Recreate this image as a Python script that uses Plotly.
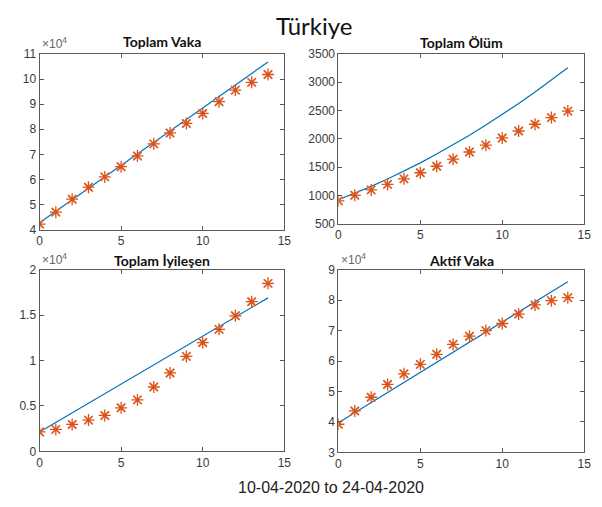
import plotly.graph_objects as go

days = list(range(15))

toplam_vaka = [42282, 47029, 52167, 56956, 61049, 65111, 69392, 74193, 78546,
               82329, 86306, 90980, 95591, 98674, 101790]
toplam_vaka_fit = [42800, 47370, 51940, 56510, 61080, 65650, 70220, 74790, 79360,
                   83930, 88500, 93070, 97640, 102210, 106780]

toplam_olum = [908, 1006, 1101, 1198, 1296, 1403, 1518, 1643, 1769, 1890, 2017,
               2140, 2259, 2376, 2491]
toplam_olum_fit = [926, 1041, 1163, 1294, 1432, 1578, 1733, 1895, 2066, 2244, 2430,
                   2624, 2826, 3036, 3254]

toplam_iyilesen = [2142, 2423, 2965, 3446, 3957, 4799, 5674, 7089, 8631, 10453,
                   11976, 13430, 14918, 16477, 18491]
toplam_iyilesen_fit = [2140, 3194, 4248, 5302, 6356, 7410, 8464, 9518, 10572, 11626,
                       12680, 13734, 14788, 15842, 16896]

aktif_vaka = [39232, 43600, 48101, 52312, 55796, 58909, 62200, 65461, 68146, 69986,
              72313, 75410, 78414, 79821, 80808]
aktif_vaka_fit = [39700, 43010, 46320, 49630, 52940, 56250, 59560, 62870, 66180,
                  69490, 72800, 76110, 79420, 82730, 86040]

titles = ["Toplam Vaka", "Toplam Ölüm", "Toplam İyileşen", "Aktif Vaka"]
main_title = "Türkiye"
x_label = "10-04-2020 to 24-04-2020"

x_ticks = [0, 5, 10, 15]
y_ticks = [
    ([40000, 50000, 60000, 70000, 80000, 90000, 100000, 110000],
     ["4", "5", "6", "7", "8", "9", "10", "11"]),
    ([500, 1000, 1500, 2000, 2500, 3000, 3500],
     ["500", "1000", "1500", "2000", "2500", "3000", "3500"]),
    ([0, 5000, 10000, 15000, 20000], ["0", "0.5", "1", "1.5", "2"]),
    ([30000, 40000, 50000, 60000, 70000, 80000, 90000],
     ["3", "4", "5", "6", "7", "8", "9"]),
]
y_ranges = [[40000, 110000], [500, 3500], [0, 20000], [30000, 90000]]
exponent = [True, False, True, True]

# The page body has an 8px margin, so the figure is drawn 8px right/down.
OFF = 8
W, H = 602 - OFF, 507 - OFF


def px(x):
    return (x - OFF) / W


def py(y):
    return 1 - (y - OFF) / H


# axes boxes in window pixels (left, right, top, bottom)
boxes = [(37, 286, 48, 229), (341, 591, 48, 223), (37, 286, 270, 457), (341, 591, 270, 458)]
title_y = [35, 36, 261, 261]

series = [(toplam_vaka, toplam_vaka_fit), (toplam_olum, toplam_olum_fit),
          (toplam_iyilesen, toplam_iyilesen_fit), (aktif_vaka, aktif_vaka_fit)]

fig = go.Figure()
line_col = "#0072BD"
mark_col = "#D95319"
mark_light = "#EFA483"
axis_col = "#5a5a5a"
text_col = "#3a3a3a"
sans = "Liberation Sans"

annotations = []
for i, ((pts, fit), (l, r, t, b)) in enumerate(zip(series, boxes)):
    xa = "x" if i == 0 else f"x{i+1}"
    ya = "y" if i == 0 else f"y{i+1}"
    fig.add_trace(go.Scatter(x=days, y=fit, mode="lines",
                             line=dict(color=line_col, width=1.2),
                             xaxis=xa, yaxis=ya, showlegend=False, hoverinfo="skip"))
    fig.add_trace(go.Scatter(x=days, y=pts, mode="markers",
                             marker=dict(symbol="x-thin-open", size=8,
                                         line=dict(color=mark_light, width=2),
                                         color=mark_light),
                             xaxis=xa, yaxis=ya, showlegend=False, hoverinfo="skip"))
    fig.add_trace(go.Scatter(x=days, y=pts, mode="markers",
                             marker=dict(symbol="asterisk-open", size=10,
                                         line=dict(color=mark_col, width=1.3),
                                         color=mark_col),
                             xaxis=xa, yaxis=ya, showlegend=False, hoverinfo="skip"))
    axkey_x = "xaxis" if i == 0 else f"xaxis{i+1}"
    axkey_y = "yaxis" if i == 0 else f"yaxis{i+1}"
    common = dict(showline=True, linecolor=axis_col, linewidth=1, mirror="ticks",
                  ticks="inside", ticklen=4, tickcolor=axis_col, tickwidth=1,
                  showgrid=False, zeroline=False, ticklabeloverflow="allow",
                  tickfont=dict(family=sans, size=12, color=text_col))
    fig.layout[axkey_x] = dict(domain=[px(l), px(r)], range=[0, 15], tickvals=x_ticks,
                               anchor=ya, **common)
    fig.layout[axkey_y] = dict(domain=[py(b), py(t)], range=y_ranges[i],
                               tickvals=y_ticks[i][0], ticktext=y_ticks[i][1],
                               anchor=xa, **common)
    annotations.append(dict(text="<b>" + titles[i] + "</b>", x=px((l + r) / 2),
                            y=py(title_y[i]), xref="paper", yref="paper",
                            xanchor="center", yanchor="middle", showarrow=False,
                            font=dict(family="Lato", size=14, color="#111111")))
    if exponent[i]:
        annotations.append(dict(text="×10<sup>4</sup>", x=px(l + 1), y=py(t - 1),
                                xref="paper", yref="paper", xanchor="left",
                                yanchor="bottom", showarrow=False,
                                font=dict(family=sans, size=12, color="#666666")))

annotations.append(dict(text=main_title, x=px(316), y=py(19), xref="paper",
                        yref="paper", xanchor="center", yanchor="middle",
                        showarrow=False, font=dict(family="Lato", size=24, color="#111111")))
annotations.append(dict(text=x_label, x=px(333), y=py(494), xref="paper",
                        yref="paper", xanchor="center", yanchor="middle",
                        showarrow=False,
                        font=dict(family=sans, size=16, color="#222222")))

fig.update_layout(width=W, height=H, margin=dict(l=0, r=0, t=0, b=0),
                  paper_bgcolor="white", plot_bgcolor="white",
                  annotations=annotations)

fig.write_html("out.html")
